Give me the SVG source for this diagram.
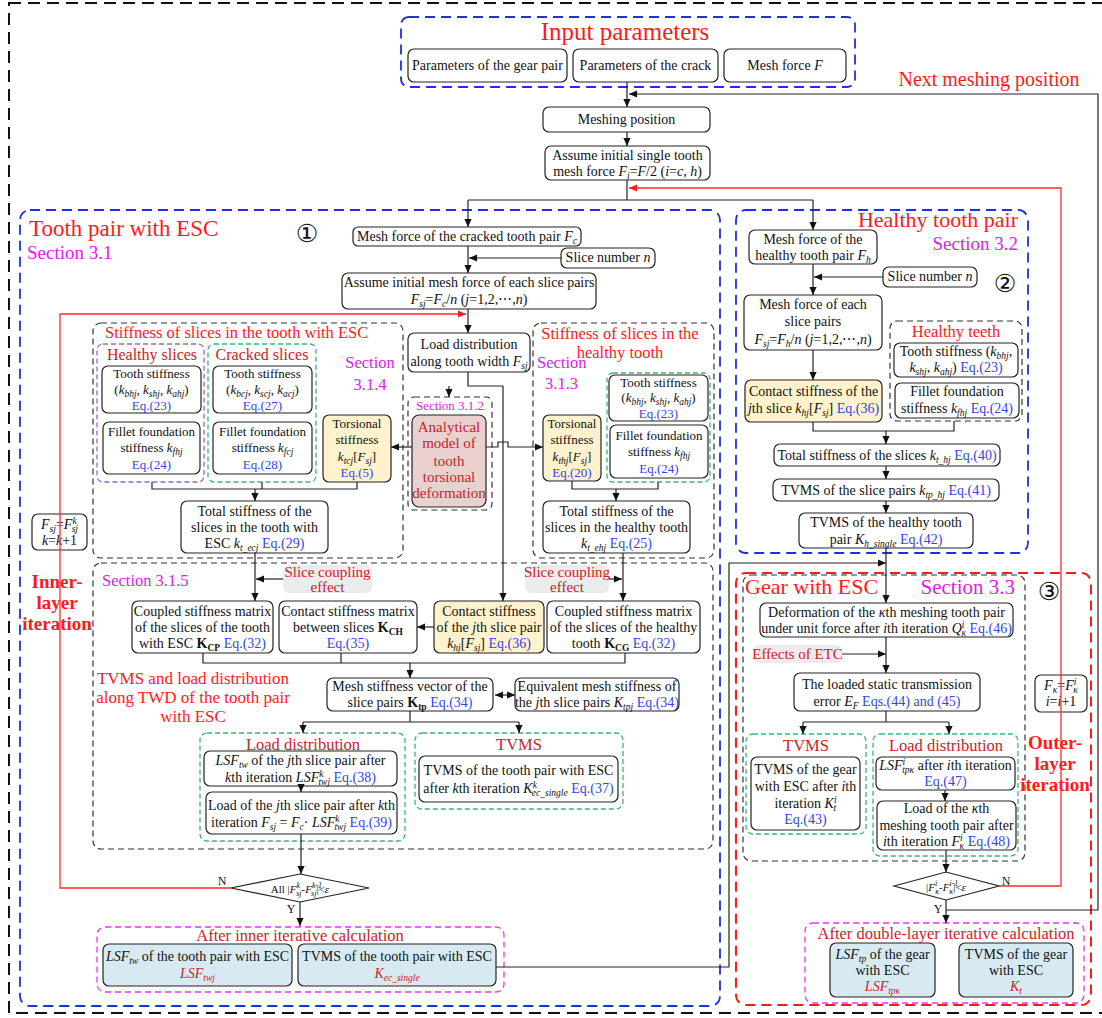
<svg xmlns="http://www.w3.org/2000/svg" width="1102" height="1018" viewBox="0 0 1102 1018">
<defs>
<marker id="a" viewBox="0 0 10 10" refX="10" refY="5" markerWidth="9" markerHeight="8" markerUnits="userSpaceOnUse" orient="auto-start-reverse"><path d="M0,0.5 L10,5 L0,9.5z" fill="#111"/></marker>
<marker id="ar" viewBox="0 0 10 10" refX="10" refY="5" markerWidth="9" markerHeight="8" markerUnits="userSpaceOnUse" orient="auto"><path d="M0,0.5 L10,5 L0,9.5z" fill="#ff1a1a"/></marker>
</defs>
<style>
.bx{fill:#fff;stroke:#222;stroke-width:1.2}
.yl{fill:#fff2cc;stroke:#222;stroke-width:1.2}
.lb{fill:#d7eaf1;stroke:#222;stroke-width:1.2}
.pk{fill:#ebd0d0;stroke:#222;stroke-width:1.2}
.gy{fill:#ececec;stroke:none}
.dk{fill:none;stroke:#333;stroke-width:1.2;stroke-dasharray:6 4}
.db{fill:none;stroke:#1f2fe6;stroke-width:1.8;stroke-dasharray:10 6}
.dr{fill:none;stroke:#ff1a1a;stroke-width:2;stroke-dasharray:10 6}
.dg{fill:none;stroke:#33bb77;stroke-width:1.3;stroke-dasharray:5 3}
.dp{fill:none;stroke:#9a66cc;stroke-width:1.3;stroke-dasharray:5 3}
.dm{fill:none;stroke:#ee33ee;stroke-width:1.3;stroke-dasharray:6 4}
.do{fill:none;stroke:#111;stroke-width:2;stroke-dasharray:12 7}
.ln{fill:none;stroke:#222;stroke-width:1.2}
.la{fill:none;stroke:#222;stroke-width:1.2;marker-end:url(#a)}
.lr{fill:none;stroke:#ff2a2a;stroke-width:1.3;marker-end:url(#ar)}
.t{font-family:"Liberation Serif","Times New Roman",serif;font-size:14px;fill:#111;text-anchor:middle}
.sm{font-size:13px}
.xs{font-size:11px}
.st{text-anchor:start}
.en{text-anchor:end}
.e{fill:#3344ee}
.i{font-style:italic}
.s{font-size:9.5px;baseline-shift:-3px}
.p{font-size:9.5px;baseline-shift:5px}
.xs .s,.xs .p{font-size:8px}
.R{fill:#ff1a1a}
.D{fill:#cc2229}
.M{fill:#e020e8}
.h1{font-size:25px}
.h2{font-size:22px}
.h3{font-size:16.5px}
.bd{font-weight:bold;font-size:19px}
.c{font-family:"DejaVu Sans","Noto Sans CJK SC",sans-serif;font-size:25px;fill:#111;text-anchor:middle}
</style>

<rect class="do" x="9" y="3" width="1110" height="1010"/>

<g id="input">
<rect class="db" x="401" y="17" width="454" height="70" rx="8"/>
<text class="t R h1" x="625" y="40">Input parameters</text>
<rect class="bx" x="408" y="49" width="159" height="33" rx="6"/>
<text class="t" x="487.5" y="70">Parameters of the gear pair</text>
<rect class="bx" x="573" y="49" width="145" height="33" rx="6"/>
<text class="t" x="645.5" y="70">Parameters of the crack</text>
<rect class="bx" x="724" y="49" width="122" height="33" rx="6"/>
<text class="t" x="785" y="70">Mesh force <tspan class="i">F</tspan></text>
</g>
<text class="t R" style="font-size:20px" x="989" y="86">Next meshing position</text>

<g id="meshpos">
<rect class="bx" x="543" y="107" width="167" height="25" rx="6"/>
<text class="t" x="626.5" y="124">Meshing position</text>
</g>
<g id="assume1">
<rect class="bx" x="545" y="146" width="165" height="34" rx="6"/>
<text class="t" x="627.5" y="160">Assume initial single tooth</text>
<text class="t" x="627.5" y="176">mesh force <tspan class="i">F</tspan><tspan class="s i">i</tspan>=<tspan class="i">F</tspan>/2 (<tspan class="i">i</tspan>=<tspan class="i">c</tspan>, <tspan class="i">h</tspan>)</text>
</g>

<!-- Section 1 -->
<g id="sec1">
<rect class="db" x="20" y="210" width="700" height="796" rx="10"/>
<text class="t st R" style="font-size:23px" x="29" y="236">Tooth pair with ESC</text>
<text class="t st M" style="font-size:19px" x="27" y="259">Section 3.1</text>
<text class="c" x="307" y="242">①</text>
</g>
<g id="meshc">
<rect class="bx" x="353" y="227" width="228" height="19" rx="5"/>
<text class="t" x="467" y="241">Mesh force of the cracked tooth pair <tspan class="i">F</tspan><tspan class="s i">c</tspan></text>
</g>
<g id="slice1">
<rect class="bx" x="561" y="248" width="94" height="20" rx="6"/>
<text class="t" x="608" y="262">Slice number <tspan class="i">n</tspan></text>
</g>
<g id="assume2">
<rect class="bx" x="342" y="273" width="254" height="36" rx="6"/>
<text class="t" x="469" y="287">Assume initial mesh force of each slice pairs</text>
<text class="t" x="469" y="304"><tspan class="i">F</tspan><tspan class="s i">sj</tspan>=<tspan class="i">F</tspan><tspan class="s i">c</tspan>/<tspan class="i">n</tspan> (<tspan class="i">j</tspan>=1,2,⋯,<tspan class="i">n</tspan>)</text>
</g>

<g id="stiffesc">
<rect class="dk" x="93" y="323" width="310" height="235" rx="8"/>
<text class="t st R h3" x="105" y="338">Stiffness of slices in the tooth with ESC</text>
<text class="t M h3" x="370" y="368">Section</text>
<text class="t M h3" x="370" y="390">3.1.4</text>
<rect class="dp" x="97" y="344" width="107" height="138" rx="6"/>
<text class="t D" style="font-size:16px" x="152" y="360">Healthy slices</text>
<rect class="dg" x="208" y="344" width="108" height="138" rx="6"/>
<text class="t D" style="font-size:16px" x="262" y="360">Cracked slices</text>
</g>
<g id="ts_h1">
<rect class="bx" x="102" y="366" width="99" height="47" rx="6"/>
<text class="t sm" x="151.5" y="378">Tooth stiffness</text>
<text class="t sm" x="151.5" y="394">(<tspan class="i">k</tspan><tspan class="s i">bhj</tspan>, <tspan class="i">k</tspan><tspan class="s i">shj</tspan>, <tspan class="i">k</tspan><tspan class="s i">ahj</tspan>)</text>
<text class="t sm e" x="151.5" y="410">Eq.(23)</text>
</g>
<g id="ff_h1">
<rect class="bx" x="103" y="422" width="97" height="52" rx="6"/>
<text class="t sm" x="151.5" y="436">Fillet foundation</text>
<text class="t sm" x="151.5" y="452">stiffness <tspan class="i">k</tspan><tspan class="s i">fhj</tspan></text>
<text class="t sm e" x="151.5" y="469">Eq.(24)</text>
</g>
<g id="ts_c">
<rect class="bx" x="213" y="366" width="99" height="47" rx="6"/>
<text class="t sm" x="262.5" y="378">Tooth stiffness</text>
<text class="t sm" x="262.5" y="394">(<tspan class="i">k</tspan><tspan class="s i">bcj</tspan>, <tspan class="i">k</tspan><tspan class="s i">scj</tspan>, <tspan class="i">k</tspan><tspan class="s i">acj</tspan>)</text>
<text class="t sm e" x="262.5" y="410">Eq.(27)</text>
</g>
<g id="ff_c">
<rect class="bx" x="213" y="422" width="99" height="52" rx="6"/>
<text class="t sm" x="262.5" y="436">Fillet foundation</text>
<text class="t sm" x="262.5" y="452">stiffness <tspan class="i">k</tspan><tspan class="s i">fcj</tspan></text>
<text class="t sm e" x="262.5" y="469">Eq.(28)</text>
</g>
<g id="tor_c">
<rect class="yl" x="323" y="415" width="68" height="67" rx="6"/>
<text class="t sm" x="357" y="428">Torsional</text>
<text class="t sm" x="357" y="444">stiffness</text>
<text class="t sm" x="357" y="461"><tspan class="i">k</tspan><tspan class="s i">tcj</tspan>[<tspan class="i">F</tspan><tspan class="s i">sj</tspan>]</text>
<text class="t sm e" x="357" y="477">Eq.(5)</text>
</g>
<g id="tot_c">
<rect class="bx" x="181" y="501" width="147" height="52" rx="6"/>
<text class="t" x="254.5" y="516">Total stiffness of the</text>
<text class="t" x="254.5" y="532">slices in the tooth with</text>
<text class="t" x="254.5" y="548">ESC <tspan class="i">k</tspan><tspan class="s i">t_ecj</tspan> <tspan class="e">Eq.(29)</tspan></text>
</g>

<g id="loaddist">
<rect class="bx" x="408" y="333" width="122" height="39" rx="6"/>
<text class="t" x="469" y="349">Load distribution</text>
<text class="t" x="469" y="366">along tooth width <tspan class="i">F</tspan><tspan class="s i">sj</tspan></text>
</g>
<g id="analytical">
<rect class="dk" x="408" y="397" width="84" height="113" rx="6"/>
<text class="t M" style="font-size:13px" x="450" y="410">Section 3.1.2</text>
<rect class="pk" x="412" y="415" width="74" height="92" rx="7"/>
<text class="t D" style="font-size:15px" x="449" y="432">Analytical</text>
<text class="t D" style="font-size:15px" x="449" y="448">model of</text>
<text class="t D" style="font-size:15px" x="449" y="466">tooth</text>
<text class="t D" style="font-size:15px" x="449" y="482">torsional</text>
<text class="t D" style="font-size:15px" x="449" y="498">deformation</text>
</g>

<g id="stiffh">
<rect class="dk" x="533" y="323" width="181" height="235" rx="8"/>
<text class="t R h3" x="620" y="339">Stiffness of slices in the</text>
<text class="t R h3" x="620" y="358">healthy tooth</text>
<text class="t st M h3" x="537" y="368">Section</text>
<text class="t st M h3" x="545" y="389">3.1.3</text>
<rect class="dg" x="607" y="373" width="103" height="109" rx="6"/>
</g>
<g id="tor_h">
<rect class="yl" x="543" y="415" width="58" height="66" rx="6"/>
<text class="t sm" x="572" y="428">Torsional</text>
<text class="t sm" x="572" y="444">stiffness</text>
<text class="t sm" x="572" y="461"><tspan class="i">k</tspan><tspan class="s i">thj</tspan>[<tspan class="i">F</tspan><tspan class="s i">sj</tspan>]</text>
<text class="t sm e" x="572" y="477">Eq.(20)</text>
</g>
<g id="ts_h2">
<rect class="bx" x="609" y="375" width="99" height="46" rx="6"/>
<text class="t sm" x="658.5" y="387">Tooth stiffness</text>
<text class="t sm" x="658.5" y="402">(<tspan class="i">k</tspan><tspan class="s i">bhj</tspan>, <tspan class="i">k</tspan><tspan class="s i">shj</tspan>, <tspan class="i">k</tspan><tspan class="s i">ahj</tspan>)</text>
<text class="t sm e" x="658.5" y="418">Eq.(23)</text>
</g>
<g id="ff_h2">
<rect class="bx" x="610" y="425" width="98" height="53" rx="6"/>
<text class="t sm" x="659" y="440">Fillet foundation</text>
<text class="t sm" x="659" y="456">stiffness <tspan class="i">k</tspan><tspan class="s i">fhj</tspan></text>
<text class="t sm e" x="659" y="473">Eq.(24)</text>
</g>
<g id="tot_h">
<rect class="bx" x="543" y="501" width="147" height="52" rx="6"/>
<text class="t" x="616.5" y="516">Total stiffness of the</text>
<text class="t" x="616.5" y="532">slices in the healthy tooth</text>
<text class="t" x="616.5" y="548"><tspan class="i">k</tspan><tspan class="s i">t_ehj</tspan> <tspan class="e">Eq.(25)</tspan></text>
</g>

<g id="sec315">
<rect class="dk" x="93" y="563" width="620" height="286" rx="8"/>
<text class="t st M h3" x="102" y="586">Section 3.1.5</text>
<text class="t R" style="font-size:17px" x="193" y="684">TVMS and load distribution</text>
<text class="t R" style="font-size:17px" x="193" y="703">along TWD of the tooth pair</text>
<text class="t R" style="font-size:17px" x="193" y="722">with ESC</text>
</g>
<g id="scoup1">
<rect class="gy" x="283" y="565" width="89" height="28" rx="6"/>
<text class="t D" style="font-size:15px" x="327.5" y="577">Slice coupling</text>
<text class="t D" style="font-size:15px" x="327.5" y="592">effect</text>
</g>
<g id="scoup2">
<rect class="gy" x="525" y="565" width="84" height="28" rx="6"/>
<text class="t D" style="font-size:15px" x="567" y="577">Slice coupling</text>
<text class="t D" style="font-size:15px" x="567" y="592">effect</text>
</g>
<g id="kcp">
<rect class="bx" x="132" y="601" width="141" height="52" rx="6"/>
<text class="t" x="202.5" y="616">Coupled stiffness matrix</text>
<text class="t" x="202.5" y="632">of the slices of the tooth</text>
<text class="t" x="202.5" y="648">with ESC <tspan font-weight="bold">K</tspan><tspan class="s" font-weight="bold">CP</tspan> <tspan class="e">Eq.(32)</tspan></text>
</g>
<g id="kch">
<rect class="bx" x="279" y="601" width="138" height="52" rx="6"/>
<text class="t" x="348" y="616">Contact stiffness matrix</text>
<text class="t" x="348" y="632">between slices <tspan font-weight="bold">K</tspan><tspan class="s" font-weight="bold">CH</tspan></text>
<text class="t e" x="348" y="648">Eq.(35)</text>
</g>
<g id="khj">
<rect class="yl" x="434" y="601" width="110" height="52" rx="6"/>
<text class="t" x="489" y="616">Contact stiffness</text>
<text class="t" x="489" y="632">of the <tspan class="i">j</tspan>th slice pair</text>
<text class="t" x="489" y="648"><tspan class="i">k</tspan><tspan class="s i">hj</tspan>[<tspan class="i">F</tspan><tspan class="s i">sj</tspan>] <tspan class="e">Eq.(36)</tspan></text>
</g>
<g id="kcg">
<rect class="bx" x="547" y="601" width="153" height="52" rx="6"/>
<text class="t" x="623.5" y="616">Coupled stiffness matrix</text>
<text class="t" x="623.5" y="632">of the slices of the healthy</text>
<text class="t" x="623.5" y="648">tooth <tspan font-weight="bold">K</tspan><tspan class="s" font-weight="bold">CG</tspan> <tspan class="e">Eq.(32)</tspan></text>
</g>
<g id="ktp">
<rect class="bx" x="327" y="678" width="166" height="33" rx="6"/>
<text class="t" x="410" y="691">Mesh stiffness vector of the</text>
<text class="t" x="410" y="707">slice pairs <tspan font-weight="bold">K</tspan><tspan class="s" font-weight="bold">tp</tspan> <tspan class="e">Eq.(34)</tspan></text>
</g>
<g id="ktpj">
<rect class="bx" x="515" y="678" width="164" height="33" rx="6"/>
<text class="t" x="597" y="691">Equivalent mesh stiffness of</text>
<text class="t" x="597" y="707">the <tspan class="i">j</tspan>th slice pairs <tspan class="i">K</tspan><tspan class="s i">tpj</tspan> <tspan class="e">Eq.(34)</tspan></text>
</g>
<g id="ld1">
<rect class="dg" x="200" y="733" width="205" height="108" rx="7"/>
<text class="t D h3" x="303" y="750">Load distribution</text>
<rect class="bx" x="204" y="751" width="193" height="35" rx="6"/>
<text class="t" x="300.5" y="765"><tspan class="i">LSF</tspan><tspan class="s i">tw</tspan> of the <tspan class="i">j</tspan>th slice pair after</text>
<text class="t" x="300.5" y="782"><tspan class="i">k</tspan>th iteration <tspan class="i">LSF</tspan><tspan class="p i">k</tspan><tspan class="s i" dx="-5">twj</tspan> <tspan class="e">Eq.(38)</tspan></text>
<rect class="bx" x="206" y="792" width="191" height="42" rx="6"/>
<text class="t" x="301.5" y="810">Load of the <tspan class="i">j</tspan>th slice pair after <tspan class="i">k</tspan>th</text>
<text class="t" x="301.5" y="827">iteration <tspan class="i">F</tspan><tspan class="s i">sj</tspan> = <tspan class="i">F</tspan><tspan class="s i">c</tspan>· <tspan class="i">LSF</tspan><tspan class="p i">k</tspan><tspan class="s i" dx="-5">twj</tspan> <tspan class="e">Eq.(39)</tspan></text>
</g>
<g id="tvms1">
<rect class="dg" x="415" y="733" width="208" height="76" rx="7"/>
<text class="t D h3" x="519" y="750">TVMS</text>
<rect class="bx" x="419" y="756" width="199" height="46" rx="6"/>
<text class="t" x="518.5" y="775">TVMS of the tooth pair with ESC</text>
<text class="t" x="518.5" y="793">after <tspan class="i">k</tspan>th iteration <tspan class="i">K</tspan><tspan class="p i">k</tspan><tspan class="s i" dx="-5">ec_single</tspan> <tspan class="e">Eq.(37)</tspan></text>
</g>
<g id="dia1">
<polygon class="bx" points="231,888 300,874 369,888 300,902"/>
<text class="t xs" x="300" y="893">All |<tspan class="i">F</tspan><tspan class="p i">k</tspan><tspan class="s i" dx="-4">sj</tspan>-<tspan class="i">F</tspan><tspan class="p i">k-1</tspan><tspan class="s i" dx="-11">sj</tspan>|&lt;<tspan class="i">ε</tspan></text>
<text class="t" style="font-size:12px" x="222" y="885">N</text>
<text class="t" style="font-size:12px" x="291" y="913">Y</text>
</g>
<g id="after1">
<rect class="dm" x="97" y="927" width="407" height="65" rx="8"/>
<text class="t D h3" x="300" y="941">After inner iterative calculation</text>
<rect class="lb" x="103" y="944" width="189" height="42" rx="6"/>
<text class="t" x="197.5" y="961"><tspan class="i">LSF</tspan><tspan class="s i">tw</tspan> of the tooth pair with ESC</text>
<text class="t D i" x="197.5" y="978">LSF<tspan class="s">twj</tspan></text>
<rect class="lb" x="298" y="944" width="198" height="42" rx="6"/>
<text class="t" x="397" y="961">TVMS of the tooth pair with ESC</text>
<text class="t D i" x="397" y="978">K<tspan class="s">ec_single</tspan></text>
</g>
<g id="fsj">
<rect class="bx" x="32" y="514" width="55" height="36" rx="6"/>
<text class="t" x="59.5" y="529"><tspan class="i">F</tspan><tspan class="s i">sj</tspan>=<tspan class="i">F</tspan><tspan class="p i">k</tspan><tspan class="s i" dx="-5">sj</tspan></text>
<text class="t" x="59.5" y="545"><tspan class="i">k</tspan>=<tspan class="i">k</tspan>+1</text>
</g>

<!-- Section 2 -->
<g id="sec2">
<rect class="db" x="736" y="210" width="292" height="343" rx="10"/>
<text class="t en R h2" x="1018" y="227">Healthy tooth pair</text>
<text class="t en M" style="font-size:19px" x="1018" y="250">Section 3.2</text>
<text class="c" x="1005" y="292">②</text>
</g>
<g id="meshh">
<rect class="bx" x="749" y="230" width="128" height="34" rx="6"/>
<text class="t" x="813" y="244">Mesh force of the</text>
<text class="t" x="813" y="260">healthy tooth pair <tspan class="i">F</tspan><tspan class="s i">h</tspan></text>
</g>
<g id="slice2">
<rect class="bx" x="883" y="267" width="94" height="20" rx="6"/>
<text class="t" x="930" y="281">Slice number <tspan class="i">n</tspan></text>
</g>
<g id="meshe">
<rect class="bx" x="744" y="295" width="138" height="55" rx="6"/>
<text class="t" x="813" y="309">Mesh force of each</text>
<text class="t" x="813" y="326">slice pairs</text>
<text class="t" x="813" y="344"><tspan class="i">F</tspan><tspan class="s i">sj</tspan>=<tspan class="i">F</tspan><tspan class="s i">h</tspan>/<tspan class="i">n</tspan> (<tspan class="i">j</tspan>=1,2,⋯,<tspan class="i">n</tspan>)</text>
</g>
<g id="khj2">
<rect class="yl" x="745" y="380" width="137" height="42" rx="6"/>
<text class="t" x="813.5" y="396">Contact stiffness of the</text>
<text class="t" x="813.5" y="413"><tspan class="i">j</tspan>th slice <tspan class="i">k</tspan><tspan class="s i">hj</tspan>[<tspan class="i">F</tspan><tspan class="s i">sj</tspan>] <tspan class="e">Eq.(36)</tspan></text>
</g>
<g id="hteeth">
<rect class="dk" x="890" y="321" width="132" height="100" rx="7"/>
<text class="t R h3" x="956" y="337">Healthy teeth</text>
<rect class="bx" x="894" y="343" width="124" height="34" rx="6"/>
<text class="t" x="956" y="356">Tooth stiffness (<tspan class="i">k</tspan><tspan class="s i">bhj</tspan>,</text>
<text class="t" x="956" y="372"><tspan class="i">k</tspan><tspan class="s i">shj</tspan>, <tspan class="i">k</tspan><tspan class="s i">ahj</tspan>) <tspan class="e">Eq.(23)</tspan></text>
<rect class="bx" x="895" y="383" width="124" height="35" rx="6"/>
<text class="t" x="957" y="396">Fillet foundation</text>
<text class="t" x="957" y="413">stiffness <tspan class="i">k</tspan><tspan class="s i">fhj</tspan> <tspan class="e">Eq.(24)</tspan></text>
</g>
<g id="tothj">
<rect class="bx" x="774" y="444" width="226" height="22" rx="6"/>
<text class="t" x="887" y="460">Total stiffness of the slices <tspan class="i">k</tspan><tspan class="s i">t_hj</tspan> <tspan class="e">Eq.(40)</tspan></text>
</g>
<g id="tvmssp">
<rect class="bx" x="773" y="479" width="226" height="22" rx="6"/>
<text class="t" x="886" y="495">TVMS of the slice pairs <tspan class="i">k</tspan><tspan class="s i">tp_hj</tspan> <tspan class="e">Eq.(41)</tspan></text>
</g>
<g id="tvmsh">
<rect class="bx" x="799" y="513" width="174" height="35" rx="6"/>
<text class="t" x="886" y="527">TVMS of the healthy tooth</text>
<text class="t" x="886" y="544">pair <tspan class="i">K</tspan><tspan class="s i">h_single</tspan> <tspan class="e">Eq.(42)</tspan></text>
</g>

<!-- Section 3 -->
<g id="sec3">
<rect class="dr" x="736" y="573" width="355" height="432" rx="10"/>
<rect class="dk" x="743" y="575" width="282" height="286" rx="8"/>
<text class="t st R h2" x="745" y="594">Gear with ESC</text>
<text class="t en M" style="font-size:21px" x="1015" y="594">Section 3.3</text>
<text class="c" x="1049" y="600">③</text>
<text class="t R bd" x="1055" y="749">Outer-</text>
<text class="t R bd" x="1055" y="770">layer</text>
<text class="t R bd" x="1055" y="791">iteration</text>
</g>
<g id="deform">
<rect class="bx" x="760" y="603" width="253" height="34" rx="6"/>
<text class="t" x="886.5" y="617">Deformation of the <tspan class="i">κ</tspan>th meshing tooth pair</text>
<text class="t" x="886.5" y="633">under unit force after <tspan class="i">i</tspan>th iteration <tspan class="i">Q</tspan><tspan class="p i">i</tspan><tspan class="s i" dx="-3">κ</tspan> <tspan class="e">Eq.(46)</tspan></text>
</g>
<g id="etc">
<rect class="gy" x="753" y="645" width="89" height="18" rx="6"/>
<text class="t D" style="font-size:15px" x="797.5" y="659">Effects of ETC</text>
</g>
<g id="loaded">
<rect class="bx" x="794" y="673" width="186" height="38" rx="6"/>
<text class="t" x="887" y="689">The loaded static transmission</text>
<text class="t" x="887" y="706">error <tspan class="i">E</tspan><tspan class="s i">F</tspan> <tspan class="e">Eqs.(44) and (45)</tspan></text>
</g>
<g id="tvms3">
<rect class="dg" x="746" y="734" width="120" height="100" rx="7"/>
<text class="t D h3" x="806" y="751">TVMS</text>
<rect class="bx" x="751" y="757" width="109" height="73" rx="6"/>
<text class="t" x="805.5" y="774">TVMS of the gear</text>
<text class="t" x="805.5" y="791">with ESC after <tspan class="i">i</tspan>th</text>
<text class="t" x="805.5" y="808">iteration <tspan class="i">K</tspan><tspan class="p i">i</tspan><tspan class="s i" dx="-3">t</tspan></text>
<text class="t e" x="805.5" y="824">Eq.(43)</text>
</g>
<g id="ld3">
<rect class="dg" x="873" y="734" width="145" height="122" rx="7"/>
<text class="t D h3" x="946" y="751">Load distribution</text>
<rect class="bx" x="876" y="757" width="139" height="33" rx="6"/>
<text class="t" x="945.5" y="770"><tspan class="i">LSF</tspan><tspan class="p i">i</tspan><tspan class="s i" dx="-3">tpκ</tspan> after <tspan class="i">i</tspan>th iteration</text>
<text class="t e" x="945.5" y="786">Eq.(47)</text>
<rect class="bx" x="877" y="801" width="139" height="49" rx="6"/>
<text class="t" x="946.5" y="813">Load of the <tspan class="i">κ</tspan>th</text>
<text class="t" x="946.5" y="830">meshing tooth pair after</text>
<text class="t" x="946.5" y="846"><tspan class="i">i</tspan>th iteration <tspan class="i">F</tspan><tspan class="p i">i</tspan><tspan class="s i" dx="-3">κ</tspan> <tspan class="e">Eq.(48)</tspan></text>
</g>
<g id="dia2">
<polygon class="bx" points="894,886 946,872 999,886 946,900"/>
<text class="t xs" x="946" y="891">|<tspan class="i">F</tspan><tspan class="p i">i</tspan><tspan class="s i" dx="-2">κ</tspan>-<tspan class="i">F</tspan><tspan class="p i">i-1</tspan><tspan class="s i" dx="-9">κ</tspan>|&lt;<tspan class="i">ε</tspan></text>
<text class="t" style="font-size:12px" x="1006" y="885">N</text>
<text class="t" style="font-size:12px" x="938" y="913">Y</text>
</g>
<g id="fk">
<rect class="bx" x="1035" y="675" width="52" height="37" rx="6"/>
<text class="t" x="1061" y="690"><tspan class="i">F</tspan><tspan class="s i">κ</tspan>=<tspan class="i">F</tspan><tspan class="p i">i</tspan><tspan class="s i" dx="-3">κ</tspan></text>
<text class="t" x="1061" y="706"><tspan class="i">i</tspan>=<tspan class="i">i</tspan>+1</text>
</g>
<g id="after2">
<rect class="dm" x="805" y="923" width="279" height="80" rx="8"/>
<text class="t D h3" x="946" y="939">After double-layer iterative calculation</text>
<rect class="lb" x="830" y="943" width="105" height="54" rx="6"/>
<text class="t" x="882.5" y="959"><tspan class="i">LSF</tspan><tspan class="s i">tp</tspan> of the gear</text>
<text class="t" x="882.5" y="975">with ESC</text>
<text class="t D i" x="882.5" y="991">LSF<tspan class="s">tpκ</tspan></text>
<rect class="lb" x="959" y="943" width="114" height="54" rx="6"/>
<text class="t" x="1016" y="959">TVMS of the gear</text>
<text class="t" x="1016" y="975">with ESC</text>
<text class="t D i" x="1016" y="991">K<tspan class="s">t</tspan></text>
</g>
<g id="innerlbl">
<text class="t R bd" x="57" y="588">Inner-</text>
<text class="t R bd" x="57" y="609">layer</text>
<text class="t R bd" x="57" y="630">iteration</text>
</g>

<g id="connectors">
<path class="la" d="M627,82 V107"/>
<path class="la" d="M946,910 H1098 V94 H629"/>
<path class="la" d="M627,132 V146"/>
<path class="ln" d="M627,180 V200 M468,200 H813"/>
<path class="la" d="M468,200 V227"/>
<path class="la" d="M813,200 V230"/>
<path class="lr" d="M999,886 H1061 V188 H629"/>
<path class="la" d="M468,246 V273"/>
<path class="la" d="M561,258 H469"/>
<path class="la" d="M468,309 V333"/>
<path class="lr" d="M232,888 H60 V314 H466"/>
<path class="ln" d="M152,482 V489 H357 V482 M262,482 V489"/>
<path class="la" d="M255,489 V501"/>
<path class="ln" d="M468,372 V386 H503"/>
<path class="la" d="M449,386 V397"/>
<path class="la" d="M503,386 V601"/>
<path class="la" d="M412,447 H391"/>
<path class="la" d="M486,447 H498 V442 H508 V447 H543"/>
<path class="ln" d="M572,481 V489 H658 V482"/>
<path class="la" d="M616,489 V501"/>
<path class="la" d="M283,579 H256"/>
<path class="la" d="M255,553 V601"/>
<path class="la" d="M609,579 H622"/>
<path class="la" d="M623,553 V601"/>
<path class="la" d="M434,627 H417"/>
<path class="ln" d="M203,653 V663 H625 V653 M341,653 V663"/>
<path class="la" d="M410,663 V678"/>
<path class="la" d="M495,695 H515" marker-start="url(#a)"/>
<path class="ln" d="M410,711 V722 M303,722 H519"/>
<path class="la" d="M303,722 V733"/>
<path class="la" d="M519,722 V733"/>
<path class="la" d="M301,786 V792"/>
<path class="la" d="M301,834 V874"/>
<path class="la" d="M300,902 V926"/>
<path class="la" d="M496,967 H729 V563 H886"/>
<path class="la" d="M883,277 H814"/>
<path class="la" d="M813,264 V295"/>
<path class="la" d="M813,350 V380"/>
<path class="ln" d="M813,422 V431 H954 V421"/>
<path class="la" d="M886,431 V444"/>
<path class="la" d="M886,466 V479"/>
<path class="la" d="M886,501 V513"/>
<path class="la" d="M886,548 V603"/>
<path class="la" d="M842,654 H886"/>
<path class="la" d="M886,637 V673"/>
<path class="ln" d="M886,711 V722 M803,722 H949"/>
<path class="la" d="M803,722 V734"/>
<path class="la" d="M949,722 V734"/>
<path class="la" d="M945,790 V801"/>
<path class="la" d="M946,850 V872"/>
<path class="la" d="M946,900 V923"/>
</g>
</svg>
